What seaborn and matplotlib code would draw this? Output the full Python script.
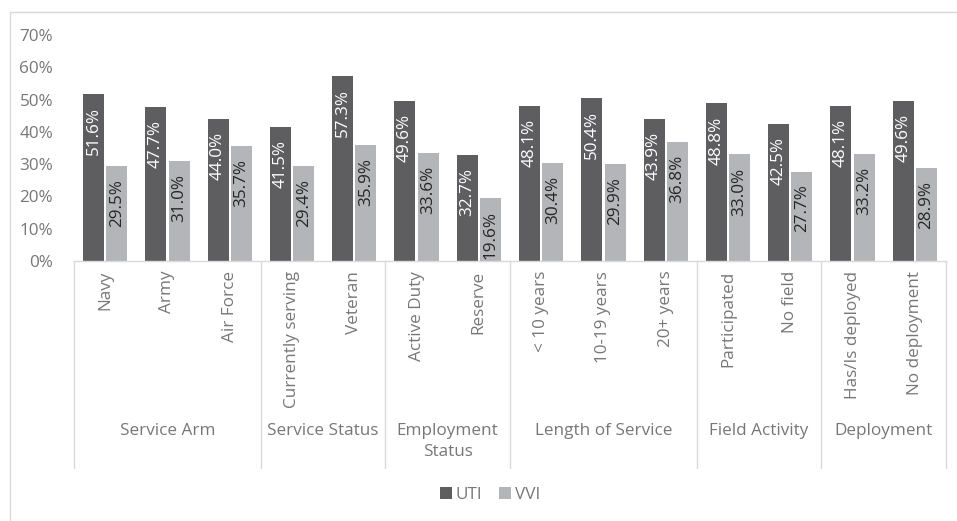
import matplotlib
matplotlib.use("Agg")
import matplotlib.pyplot as plt
import matplotlib.transforms as mtransforms
import seaborn as sns
import pandas as pd

categories = ["Navy", "Army", "Air Force", "Currently serving", "Veteran",
              "Active Duty", "Reserve", "< 10 years", "10-19 years", "20+ years",
              "Participated", "No field", "Has/Is deployed", "No deployment"]
uti = [51.6, 47.7, 44.0, 41.5, 57.3, 49.6, 32.7, 48.1, 50.4, 43.9, 48.8, 42.5, 48.1, 49.6]
vvi = [29.5, 31.0, 35.7, 29.4, 35.9, 33.6, 19.6, 30.4, 29.9, 36.8, 33.0, 27.7, 33.2, 28.9]
groups = ["Service Arm", "Service Status", "Employment\nStatus", "Length of Service",
          "Field Activity", "Deployment"]
group_sizes = [3, 2, 2, 3, 2, 2]
series = ["UTI", "VVI"]
yticks = [0, 10, 20, 30, 40, 50, 60, 70]

df = pd.DataFrame({
    "cat": categories * 2,
    "val": [v / 100 for v in uti] + [v / 100 for v in vvi],
    "series": ["UTI"] * len(categories) + ["VVI"] * len(categories),
})

sns.set_theme(style="white")
plt.rcParams["font.family"] = ["Open Sans", "DejaVu Sans"]
TXT = "#777777"
DARK = "#5e5e60"
LIGHT = "#b4b5b8"
FS = 12.3

fig = plt.figure(figsize=(9.57, 5.21), dpi=100)
ax = fig.add_axes([74 / 957, 260 / 521, 872 / 957, 226 / 521])

sns.barplot(data=df, x="cat", y="val", hue="series", order=categories,
            hue_order=series, palette=[DARK, LIGHT], width=0.75, gap=0.1,
            saturation=1, ax=ax, legend=True, edgecolor="none", linewidth=0)

ax.set_ylim(0, 0.7)
ax.set_xlim(-0.5, len(categories) - 0.5)
ax.set_yticks([t / 100 for t in yticks])
ax.set_yticklabels([f"{t}%" for t in yticks], fontsize=FS, color=TXT)
ax.tick_params(axis="y", length=0, pad=15)
ax.tick_params(axis="x", length=0, pad=7)
ax.set_xticks(range(len(categories)))
ax.set_xticklabels(categories, rotation=90, fontsize=FS, color=TXT, va="top", ha="center")
ax.set_xlabel("")
ax.set_ylabel("")
for s in ["top", "right", "left"]:
    ax.spines[s].set_visible(False)
ax.spines["bottom"].set_color("#d9d9d9")
ax.spines["bottom"].set_linewidth(1)

# data labels
for container, col in zip(ax.containers, ["white", "#262626"]):
    for rect in container:
        h = rect.get_height()
        ax.annotate(f"{h*100:.1f}%", (rect.get_x() + rect.get_width() / 2, h),
                    xytext=(0, -13), textcoords="offset pixels", rotation=90,
                    ha="center", va="top", fontsize=FS, color=col)

# group separators and labels
trans = mtransforms.blended_transform_factory(ax.transData, fig.transFigure)
bounds = [-0.5]
for g in group_sizes:
    bounds.append(bounds[-1] + g)
for b in bounds:
    ax.plot([b, b], [260 / 521, 53 / 521], transform=trans, color="#d9d9d9",
            lw=1, clip_on=False)
for i, g in enumerate(groups):
    cx = (bounds[i] + bounds[i + 1]) / 2
    ax.text(cx, 1 - 423 / 521, g, transform=trans, ha="center", va="top",
            fontsize=FS, color=TXT, linespacing=1.4)

# outer chart frame
fig.add_artist(plt.Line2D([10 / 957, 10 / 957], [0, 1 - 12 / 521],
                          transform=fig.transFigure, color="#d9d9d9", lw=1))
fig.add_artist(plt.Line2D([10 / 957, 1], [1 - 12 / 521, 1 - 12 / 521],
                          transform=fig.transFigure, color="#d9d9d9", lw=1))

# legend
handles, labels = ax.get_legend_handles_labels()
ax.legend_.remove()
fig.legend(handles, labels, loc="center", bbox_to_anchor=(490 / 957, 1 - 495 / 521),
           ncol=2, frameon=False, fontsize=FS, handlelength=0.7, handleheight=0.7,
           handletextpad=0.2, columnspacing=1.0, labelcolor=TXT)

fig.savefig("out.png", dpi=100)
